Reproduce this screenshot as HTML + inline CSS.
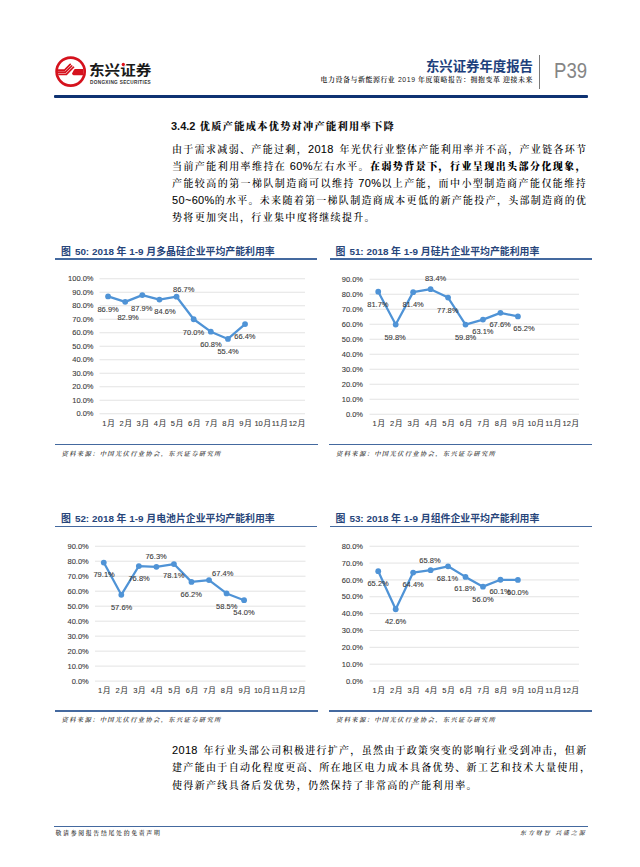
<!DOCTYPE html>
<html lang="zh-CN">
<head>
<meta charset="utf-8">
<title>东兴证券年度报告 P39</title>
<style>
html,body{margin:0;padding:0;background:#fff;}
body{width:640px;height:867px;position:relative;overflow:hidden;font-family:"Liberation Sans","Noto Serif CJK SC",serif;color:#111;}
.abs{position:absolute;white-space:nowrap;}
.logo-cn{position:absolute;left:88.8px;top:61.5px;font-family:"Liberation Sans","Noto Sans CJK SC",sans-serif;font-weight:bold;font-size:14.2px;line-height:17px;letter-spacing:0px;color:#1a1a1a;white-space:nowrap;transform:scaleX(1.1);transform-origin:0 0;}
.logo-en{position:absolute;left:90px;top:79.5px;font-family:"Liberation Sans",sans-serif;font-weight:bold;font-size:4.7px;line-height:6px;letter-spacing:0.32px;color:#333;white-space:nowrap;}
.hdr-t{position:absolute;right:107px;top:59.2px;font-family:"Liberation Sans","Noto Sans CJK SC",sans-serif;font-weight:bold;font-size:13.4px;line-height:16px;color:#1d3f7c;white-space:nowrap;}
.hdr-s{position:absolute;right:107px;top:74.5px;font-family:"Liberation Sans","Noto Serif CJK SC",serif;font-size:6.9px;line-height:9px;letter-spacing:0.6px;color:#222;font-weight:600;white-space:nowrap;}
.vbar{position:absolute;left:539px;top:55px;width:1.4px;height:33.5px;background:#7a7a7a;}
.pnum{position:absolute;left:553.8px;top:59.2px;font-family:"Liberation Sans",sans-serif;font-size:22px;line-height:24px;color:#858585;transform:scaleX(0.845);transform-origin:0 0;}
.topline{position:absolute;left:53.5px;top:95px;width:534px;height:2.6px;background:#0e3272;border-radius:1px;}
.h3{position:absolute;left:171px;top:118.5px;font-family:"Liberation Sans","Noto Serif CJK SC",serif;font-weight:bold;font-size:11px;line-height:14px;color:#111;white-space:nowrap;}
.h3 .hc{letter-spacing:1.3px;font-size:10.2px;margin-left:1.2px;font-weight:900;}
.para{position:absolute;left:172px;width:415px;font-family:"Liberation Sans","Noto Serif CJK SC",serif;font-size:10px;line-height:17px;letter-spacing:1.33px;color:#000;font-weight:500;}
.para .l{font-size:11px;letter-spacing:0.33px;font-weight:normal;-webkit-text-stroke:0.06px #000;}
.para div{white-space:nowrap;height:17px;}
.para .j{text-align:justify;text-align-last:justify;}
.para b{font-weight:900;}
.ctitle{position:absolute;font-family:"Liberation Sans","Noto Sans CJK SC",sans-serif;font-weight:bold;font-size:9.9px;line-height:12px;color:#27457a;white-space:nowrap;}
.ctitle .tnum{margin-left:4px;}
.hl{position:absolute;height:1.4px;background:#44699f;}
.src{position:absolute;font-family:"Liberation Sans","Noto Serif CJK SC",serif;font-style:italic;font-weight:600;font-size:6.3px;line-height:8px;letter-spacing:1.33px;color:#333;white-space:nowrap;}
.foot{position:absolute;font-family:"Liberation Sans","Noto Serif CJK SC",serif;font-weight:600;font-size:5.9px;line-height:8px;color:#333;white-space:nowrap;}
svg.charts{position:absolute;left:0;top:0;}
svg.charts text{font-family:"Liberation Sans","Noto Sans CJK SC",sans-serif;font-size:7.5px;fill:#3a3a3a;stroke:#3a3a3a;stroke-width:0.1px;}
</style>
</head>
<body>
<!-- logo -->
<svg class="abs" style="left:0;top:0" width="120" height="100" viewBox="0 0 120 100">
  <defs><clipPath id="lc"><circle cx="70.65" cy="71.6" r="12.8"/></clipPath></defs>
  <circle cx="70.65" cy="71.6" r="14.05" fill="none" stroke="#d5121d" stroke-width="2.7"/>
  <g clip-path="url(#lc)" fill="none" stroke="#d5121d" stroke-width="1.75" stroke-linecap="round" stroke-linejoin="miter">
    <path d="M55 70.05 L64.6 70.05 L70.2 64.45"/>
    <path d="M55 72.2 L65.5 72.2 L71.7 66.0"/>
    <path d="M55 74.35 L66.4 74.35 L73.5 67.25"/>
  </g>
  <path clip-path="url(#lc)" d="M74.7 69.1 L88 69.1 L88 75.2 L73.7 75.2 Q72.4 75.0 72.0 73.5 L73.6 70.5 Z" fill="#d5121d"/>
</svg>
<div class="logo-cn">东兴证券</div>
<div class="logo-en">DONGXING SECURITIES</div>
<svg class="abs" style="left:118px;top:60px" width="10" height="9" viewBox="118 60 10 9"><rect x="120.6" y="62.4" width="4.7" height="4.1" fill="#fff"/><circle cx="123.3" cy="64.5" r="1.65" fill="#e0101a"/></svg>

<div class="hdr-t">东兴证券年度报告</div>
<div class="hdr-s">电力设备与新能源行业 <span style="font-weight:normal">2019</span> 年度策略报告：拥抱变革 迎接未来</div>
<div class="vbar"></div>
<div class="pnum">P39</div>
<div class="topline"></div>

<div class="h3">3.4.2 <span class="hc">优质产能成本优势对冲产能利用率下降</span></div>

<div class="para" style="top:141.2px">
<div>由于需求减弱、产能过剩，<span class="l" style="margin-right:2.3px">2018 </span><span style="letter-spacing:1.26px">年光伏行业整体产能利用率并不高，产业链各环节</span></div>
<div class="j">当前产能利用率维持在<span class="l"> 60%</span>左右水平。<b>在弱势背景下，行业呈现出头部分化现象，</b></div>
<div class="j">产能较高的第一梯队制造商可以维持<span class="l"> 70%</span>以上产能，而中小型制造商产能仅能维持</div>
<div class="j" style="letter-spacing:1.29px"><span class="l">50~60%</span>的水平。未来随着第一梯队制造商成本更低的新产能投产，头部制造商的优</div>
<div>势将更加突出，行业集中度将继续提升。</div>
</div>

<div class="ctitle" style="left:61px;top:245.70px">图<span class="tnum">50: 2018 年 1-9 月多晶硅企业平均产能利用率</span></div>
<div class="hl" style="left:55px;top:258.25px;width:262px"></div>
<div class="ctitle" style="left:335.5px;top:245.70px">图<span class="tnum">51: 2018 年 1-9 月硅片企业平均产能利用率</span></div>
<div class="hl" style="left:330px;top:258.25px;width:262px"></div>
<div class="ctitle" style="left:61px;top:512.70px">图<span class="tnum">52: 2018 年 1-9 月电池片企业平均产能利用率</span></div>
<div class="hl" style="left:55px;top:526.00px;width:262px"></div>
<div class="ctitle" style="left:335.5px;top:512.70px">图<span class="tnum">53: 2018 年 1-9 月组件企业平均产能利用率</span></div>
<div class="hl" style="left:330px;top:526.00px;width:262px"></div>
<div class="hl" style="left:55px;top:443.75px;width:262.5px"></div>
<div class="src" style="left:61.5px;top:449.90px">资料来源：中国光伏行业协会，东兴证券研究所</div>
<div class="hl" style="left:329px;top:443.75px;width:262.5px"></div>
<div class="src" style="left:336px;top:449.90px">资料来源：中国光伏行业协会，东兴证券研究所</div>
<div class="hl" style="left:55px;top:710.15px;width:262.5px"></div>
<div class="src" style="left:61.5px;top:715.70px">资料来源：中国光伏行业协会，东兴证券研究所</div>
<div class="hl" style="left:329px;top:710.15px;width:262.5px"></div>
<div class="src" style="left:336px;top:715.70px">资料来源：中国光伏行业协会，东兴证券研究所</div>

<svg class="charts" width="640" height="867" viewBox="0 0 640 867">
<line x1="99.5" y1="278.75" x2="305" y2="278.75" stroke="#E3E3E3" stroke-width="1"/>
<line x1="99.5" y1="292.25" x2="305" y2="292.25" stroke="#E3E3E3" stroke-width="1"/>
<line x1="99.5" y1="305.75" x2="305" y2="305.75" stroke="#E3E3E3" stroke-width="1"/>
<line x1="99.5" y1="319.25" x2="305" y2="319.25" stroke="#E3E3E3" stroke-width="1"/>
<line x1="99.5" y1="332.75" x2="305" y2="332.75" stroke="#E3E3E3" stroke-width="1"/>
<line x1="99.5" y1="346.25" x2="305" y2="346.25" stroke="#E3E3E3" stroke-width="1"/>
<line x1="99.5" y1="359.75" x2="305" y2="359.75" stroke="#E3E3E3" stroke-width="1"/>
<line x1="99.5" y1="373.25" x2="305" y2="373.25" stroke="#E3E3E3" stroke-width="1"/>
<line x1="99.5" y1="386.75" x2="305" y2="386.75" stroke="#E3E3E3" stroke-width="1"/>
<line x1="99.5" y1="400.25" x2="305" y2="400.25" stroke="#E3E3E3" stroke-width="1"/>
<line x1="99.5" y1="413.75" x2="305" y2="413.75" stroke="#E3E3E3" stroke-width="1"/>
<text x="93.5" y="281.45" text-anchor="end">100.0%</text>
<text x="93.5" y="294.95" text-anchor="end">90.0%</text>
<text x="93.5" y="308.45" text-anchor="end">80.0%</text>
<text x="93.5" y="321.95" text-anchor="end">70.0%</text>
<text x="93.5" y="335.45" text-anchor="end">60.0%</text>
<text x="93.5" y="348.95" text-anchor="end">50.0%</text>
<text x="93.5" y="362.45" text-anchor="end">40.0%</text>
<text x="93.5" y="375.95" text-anchor="end">30.0%</text>
<text x="93.5" y="389.45" text-anchor="end">20.0%</text>
<text x="93.5" y="402.95" text-anchor="end">10.0%</text>
<text x="93.5" y="416.45" text-anchor="end">0.0%</text>
<text x="108.56" y="425.9" text-anchor="middle">1<tspan dx="0.7">月</tspan></text>
<text x="125.69" y="425.9" text-anchor="middle">2<tspan dx="0.7">月</tspan></text>
<text x="142.81" y="425.9" text-anchor="middle">3<tspan dx="0.7">月</tspan></text>
<text x="159.94" y="425.9" text-anchor="middle">4<tspan dx="0.7">月</tspan></text>
<text x="177.06" y="425.9" text-anchor="middle">5<tspan dx="0.7">月</tspan></text>
<text x="194.19" y="425.9" text-anchor="middle">6<tspan dx="0.7">月</tspan></text>
<text x="211.31" y="425.9" text-anchor="middle">7<tspan dx="0.7">月</tspan></text>
<text x="228.44" y="425.9" text-anchor="middle">8<tspan dx="0.7">月</tspan></text>
<text x="245.56" y="425.9" text-anchor="middle">9<tspan dx="0.7">月</tspan></text>
<text x="262.69" y="425.9" text-anchor="middle">10<tspan dx="0.7">月</tspan></text>
<text x="279.81" y="425.9" text-anchor="middle">11<tspan dx="0.7">月</tspan></text>
<text x="296.94" y="425.9" text-anchor="middle">12<tspan dx="0.7">月</tspan></text>
<polyline points="108.06,296.44 125.19,301.83 142.31,295.08 159.44,299.54 176.56,296.7 193.69,319.25 210.81,331.67 227.94,338.96 245.06,324.11" fill="none" stroke="#4F93D6" stroke-width="2.25" stroke-linejoin="round"/>
<circle cx="108.06" cy="296.44" r="2.9" fill="#4F93D6"/>
<circle cx="125.19" cy="301.83" r="2.9" fill="#4F93D6"/>
<circle cx="142.31" cy="295.08" r="2.9" fill="#4F93D6"/>
<circle cx="159.44" cy="299.54" r="2.9" fill="#4F93D6"/>
<circle cx="176.56" cy="296.7" r="2.9" fill="#4F93D6"/>
<circle cx="193.69" cy="319.25" r="2.9" fill="#4F93D6"/>
<circle cx="210.81" cy="331.67" r="2.9" fill="#4F93D6"/>
<circle cx="227.94" cy="338.96" r="2.9" fill="#4F93D6"/>
<circle cx="245.06" cy="324.11" r="2.9" fill="#4F93D6"/>
<text x="108.1" y="312.2" text-anchor="middle">86.9%</text>
<text x="128.1" y="319.7" text-anchor="middle">82.9%</text>
<text x="141.75" y="310.7" text-anchor="middle">87.9%</text>
<text x="165" y="313.7" text-anchor="middle">84.6%</text>
<text x="183.75" y="291.7" text-anchor="middle">86.7%</text>
<text x="193.45" y="335" text-anchor="middle">70.0%</text>
<text x="210.95" y="347.1" text-anchor="middle">60.8%</text>
<text x="228.1" y="354.1" text-anchor="middle">55.4%</text>
<text x="244.9" y="339" text-anchor="middle">66.4%</text>
<line x1="369.5" y1="279.25" x2="579" y2="279.25" stroke="#E3E3E3" stroke-width="1"/>
<line x1="369.5" y1="294.25" x2="579" y2="294.25" stroke="#E3E3E3" stroke-width="1"/>
<line x1="369.5" y1="309.25" x2="579" y2="309.25" stroke="#E3E3E3" stroke-width="1"/>
<line x1="369.5" y1="324.25" x2="579" y2="324.25" stroke="#E3E3E3" stroke-width="1"/>
<line x1="369.5" y1="339.25" x2="579" y2="339.25" stroke="#E3E3E3" stroke-width="1"/>
<line x1="369.5" y1="354.25" x2="579" y2="354.25" stroke="#E3E3E3" stroke-width="1"/>
<line x1="369.5" y1="369.25" x2="579" y2="369.25" stroke="#E3E3E3" stroke-width="1"/>
<line x1="369.5" y1="384.25" x2="579" y2="384.25" stroke="#E3E3E3" stroke-width="1"/>
<line x1="369.5" y1="399.25" x2="579" y2="399.25" stroke="#E3E3E3" stroke-width="1"/>
<line x1="369.5" y1="414.25" x2="579" y2="414.25" stroke="#E3E3E3" stroke-width="1"/>
<text x="363" y="281.95" text-anchor="end">90.0%</text>
<text x="363" y="296.95" text-anchor="end">80.0%</text>
<text x="363" y="311.95" text-anchor="end">70.0%</text>
<text x="363" y="326.95" text-anchor="end">60.0%</text>
<text x="363" y="341.95" text-anchor="end">50.0%</text>
<text x="363" y="356.95" text-anchor="end">40.0%</text>
<text x="363" y="371.95" text-anchor="end">30.0%</text>
<text x="363" y="386.95" text-anchor="end">20.0%</text>
<text x="363" y="401.95" text-anchor="end">10.0%</text>
<text x="363" y="416.95" text-anchor="end">0.0%</text>
<text x="378.73" y="426.4" text-anchor="middle">1<tspan dx="0.7">月</tspan></text>
<text x="396.19" y="426.4" text-anchor="middle">2<tspan dx="0.7">月</tspan></text>
<text x="413.65" y="426.4" text-anchor="middle">3<tspan dx="0.7">月</tspan></text>
<text x="431.1" y="426.4" text-anchor="middle">4<tspan dx="0.7">月</tspan></text>
<text x="448.56" y="426.4" text-anchor="middle">5<tspan dx="0.7">月</tspan></text>
<text x="466.02" y="426.4" text-anchor="middle">6<tspan dx="0.7">月</tspan></text>
<text x="483.48" y="426.4" text-anchor="middle">7<tspan dx="0.7">月</tspan></text>
<text x="500.94" y="426.4" text-anchor="middle">8<tspan dx="0.7">月</tspan></text>
<text x="518.4" y="426.4" text-anchor="middle">9<tspan dx="0.7">月</tspan></text>
<text x="535.85" y="426.4" text-anchor="middle">10<tspan dx="0.7">月</tspan></text>
<text x="553.31" y="426.4" text-anchor="middle">11<tspan dx="0.7">月</tspan></text>
<text x="570.77" y="426.4" text-anchor="middle">12<tspan dx="0.7">月</tspan></text>
<polyline points="378.23,291.7 395.69,324.55 413.15,292.15 430.6,289.15 448.06,297.55 465.52,324.55 482.98,319.6 500.44,312.85 517.9,316.45" fill="none" stroke="#4F93D6" stroke-width="2.25" stroke-linejoin="round"/>
<circle cx="378.23" cy="291.7" r="2.9" fill="#4F93D6"/>
<circle cx="395.69" cy="324.55" r="2.9" fill="#4F93D6"/>
<circle cx="413.15" cy="292.15" r="2.9" fill="#4F93D6"/>
<circle cx="430.6" cy="289.15" r="2.9" fill="#4F93D6"/>
<circle cx="448.06" cy="297.55" r="2.9" fill="#4F93D6"/>
<circle cx="465.52" cy="324.55" r="2.9" fill="#4F93D6"/>
<circle cx="482.98" cy="319.6" r="2.9" fill="#4F93D6"/>
<circle cx="500.44" cy="312.85" r="2.9" fill="#4F93D6"/>
<circle cx="517.9" cy="316.45" r="2.9" fill="#4F93D6"/>
<text x="377.9" y="306.95" text-anchor="middle">81.7%</text>
<text x="395.1" y="340.2" text-anchor="middle">59.8%</text>
<text x="413.1" y="306.95" text-anchor="middle">81.4%</text>
<text x="435.6" y="281.45" text-anchor="middle">83.4%</text>
<text x="447.75" y="312.7" text-anchor="middle">77.8%</text>
<text x="465.6" y="340.2" text-anchor="middle">59.8%</text>
<text x="482.9" y="334.1" text-anchor="middle">63.1%</text>
<text x="500.1" y="327.3" text-anchor="middle">67.6%</text>
<text x="524" y="330.8" text-anchor="middle">65.2%</text>
<line x1="95" y1="546.25" x2="305.5" y2="546.25" stroke="#E3E3E3" stroke-width="1"/>
<line x1="95" y1="561.23" x2="305.5" y2="561.23" stroke="#E3E3E3" stroke-width="1"/>
<line x1="95" y1="576.22" x2="305.5" y2="576.22" stroke="#E3E3E3" stroke-width="1"/>
<line x1="95" y1="591.2" x2="305.5" y2="591.2" stroke="#E3E3E3" stroke-width="1"/>
<line x1="95" y1="606.18" x2="305.5" y2="606.18" stroke="#E3E3E3" stroke-width="1"/>
<line x1="95" y1="621.17" x2="305.5" y2="621.17" stroke="#E3E3E3" stroke-width="1"/>
<line x1="95" y1="636.15" x2="305.5" y2="636.15" stroke="#E3E3E3" stroke-width="1"/>
<line x1="95" y1="651.13" x2="305.5" y2="651.13" stroke="#E3E3E3" stroke-width="1"/>
<line x1="95" y1="666.12" x2="305.5" y2="666.12" stroke="#E3E3E3" stroke-width="1"/>
<line x1="95" y1="681.1" x2="305.5" y2="681.1" stroke="#E3E3E3" stroke-width="1"/>
<text x="88.75" y="548.95" text-anchor="end">90.0%</text>
<text x="88.75" y="563.93" text-anchor="end">80.0%</text>
<text x="88.75" y="578.92" text-anchor="end">70.0%</text>
<text x="88.75" y="593.9" text-anchor="end">60.0%</text>
<text x="88.75" y="608.88" text-anchor="end">50.0%</text>
<text x="88.75" y="623.87" text-anchor="end">40.0%</text>
<text x="88.75" y="638.85" text-anchor="end">30.0%</text>
<text x="88.75" y="653.83" text-anchor="end">20.0%</text>
<text x="88.75" y="668.82" text-anchor="end">10.0%</text>
<text x="88.75" y="683.8" text-anchor="end">0.0%</text>
<text x="104.27" y="692.9" text-anchor="middle">1<tspan dx="0.7">月</tspan></text>
<text x="121.81" y="692.9" text-anchor="middle">2<tspan dx="0.7">月</tspan></text>
<text x="139.35" y="692.9" text-anchor="middle">3<tspan dx="0.7">月</tspan></text>
<text x="156.9" y="692.9" text-anchor="middle">4<tspan dx="0.7">月</tspan></text>
<text x="174.44" y="692.9" text-anchor="middle">5<tspan dx="0.7">月</tspan></text>
<text x="191.98" y="692.9" text-anchor="middle">6<tspan dx="0.7">月</tspan></text>
<text x="209.52" y="692.9" text-anchor="middle">7<tspan dx="0.7">月</tspan></text>
<text x="227.06" y="692.9" text-anchor="middle">8<tspan dx="0.7">月</tspan></text>
<text x="244.6" y="692.9" text-anchor="middle">9<tspan dx="0.7">月</tspan></text>
<text x="262.15" y="692.9" text-anchor="middle">10<tspan dx="0.7">月</tspan></text>
<text x="279.69" y="692.9" text-anchor="middle">11<tspan dx="0.7">月</tspan></text>
<text x="297.23" y="692.9" text-anchor="middle">12<tspan dx="0.7">月</tspan></text>
<polyline points="103.77,562.58 121.31,594.8 138.85,566.03 156.4,566.78 173.94,564.08 191.48,581.91 209.02,580.11 226.56,593.45 244.1,600.19" fill="none" stroke="#4F93D6" stroke-width="2.25" stroke-linejoin="round"/>
<circle cx="103.77" cy="562.58" r="2.9" fill="#4F93D6"/>
<circle cx="121.31" cy="594.8" r="2.9" fill="#4F93D6"/>
<circle cx="138.85" cy="566.03" r="2.9" fill="#4F93D6"/>
<circle cx="156.4" cy="566.78" r="2.9" fill="#4F93D6"/>
<circle cx="173.94" cy="564.08" r="2.9" fill="#4F93D6"/>
<circle cx="191.48" cy="581.91" r="2.9" fill="#4F93D6"/>
<circle cx="209.02" cy="580.11" r="2.9" fill="#4F93D6"/>
<circle cx="226.56" cy="593.45" r="2.9" fill="#4F93D6"/>
<circle cx="244.1" cy="600.19" r="2.9" fill="#4F93D6"/>
<text x="104.1" y="577.2" text-anchor="middle">79.1%</text>
<text x="121.6" y="609.7" text-anchor="middle">57.6%</text>
<text x="139.1" y="580.95" text-anchor="middle">76.8%</text>
<text x="156.1" y="558.95" text-anchor="middle">76.3%</text>
<text x="173.75" y="578.45" text-anchor="middle">78.1%</text>
<text x="191.2" y="596.7" text-anchor="middle">66.2%</text>
<text x="222.7" y="575.5" text-anchor="middle">67.4%</text>
<text x="226.7" y="608.8" text-anchor="middle">58.5%</text>
<text x="244" y="615.35" text-anchor="middle">54.0%</text>
<line x1="369.5" y1="546.25" x2="579" y2="546.25" stroke="#E3E3E3" stroke-width="1"/>
<line x1="369.5" y1="563.09" x2="579" y2="563.09" stroke="#E3E3E3" stroke-width="1"/>
<line x1="369.5" y1="579.94" x2="579" y2="579.94" stroke="#E3E3E3" stroke-width="1"/>
<line x1="369.5" y1="596.78" x2="579" y2="596.78" stroke="#E3E3E3" stroke-width="1"/>
<line x1="369.5" y1="613.62" x2="579" y2="613.62" stroke="#E3E3E3" stroke-width="1"/>
<line x1="369.5" y1="630.47" x2="579" y2="630.47" stroke="#E3E3E3" stroke-width="1"/>
<line x1="369.5" y1="647.31" x2="579" y2="647.31" stroke="#E3E3E3" stroke-width="1"/>
<line x1="369.5" y1="664.16" x2="579" y2="664.16" stroke="#E3E3E3" stroke-width="1"/>
<line x1="369.5" y1="681" x2="579" y2="681" stroke="#E3E3E3" stroke-width="1"/>
<text x="363" y="548.95" text-anchor="end">80.0%</text>
<text x="363" y="565.79" text-anchor="end">70.0%</text>
<text x="363" y="582.64" text-anchor="end">60.0%</text>
<text x="363" y="599.48" text-anchor="end">50.0%</text>
<text x="363" y="616.33" text-anchor="end">40.0%</text>
<text x="363" y="633.17" text-anchor="end">30.0%</text>
<text x="363" y="650.01" text-anchor="end">20.0%</text>
<text x="363" y="666.86" text-anchor="end">10.0%</text>
<text x="363" y="683.7" text-anchor="end">0.0%</text>
<text x="378.73" y="692.9" text-anchor="middle">1<tspan dx="0.7">月</tspan></text>
<text x="396.19" y="692.9" text-anchor="middle">2<tspan dx="0.7">月</tspan></text>
<text x="413.65" y="692.9" text-anchor="middle">3<tspan dx="0.7">月</tspan></text>
<text x="431.1" y="692.9" text-anchor="middle">4<tspan dx="0.7">月</tspan></text>
<text x="448.56" y="692.9" text-anchor="middle">5<tspan dx="0.7">月</tspan></text>
<text x="466.02" y="692.9" text-anchor="middle">6<tspan dx="0.7">月</tspan></text>
<text x="483.48" y="692.9" text-anchor="middle">7<tspan dx="0.7">月</tspan></text>
<text x="500.94" y="692.9" text-anchor="middle">8<tspan dx="0.7">月</tspan></text>
<text x="518.4" y="692.9" text-anchor="middle">9<tspan dx="0.7">月</tspan></text>
<text x="535.85" y="692.9" text-anchor="middle">10<tspan dx="0.7">月</tspan></text>
<text x="553.31" y="692.9" text-anchor="middle">11<tspan dx="0.7">月</tspan></text>
<text x="570.77" y="692.9" text-anchor="middle">12<tspan dx="0.7">月</tspan></text>
<polyline points="378.23,571.18 395.69,609.25 413.15,572.53 430.6,570.17 448.06,566.29 465.52,576.91 482.98,586.67 500.44,579.77 517.9,579.94" fill="none" stroke="#4F93D6" stroke-width="2.25" stroke-linejoin="round"/>
<circle cx="378.23" cy="571.18" r="2.9" fill="#4F93D6"/>
<circle cx="395.69" cy="609.25" r="2.9" fill="#4F93D6"/>
<circle cx="413.15" cy="572.53" r="2.9" fill="#4F93D6"/>
<circle cx="430.6" cy="570.17" r="2.9" fill="#4F93D6"/>
<circle cx="448.06" cy="566.29" r="2.9" fill="#4F93D6"/>
<circle cx="465.52" cy="576.91" r="2.9" fill="#4F93D6"/>
<circle cx="482.98" cy="586.67" r="2.9" fill="#4F93D6"/>
<circle cx="500.44" cy="579.77" r="2.9" fill="#4F93D6"/>
<circle cx="517.9" cy="579.94" r="2.9" fill="#4F93D6"/>
<text x="378.1" y="585.7" text-anchor="middle">65.2%</text>
<text x="395.6" y="623.95" text-anchor="middle">42.6%</text>
<text x="413.1" y="586.95" text-anchor="middle">64.4%</text>
<text x="430" y="562.95" text-anchor="middle">65.8%</text>
<text x="447.5" y="580.7" text-anchor="middle">68.1%</text>
<text x="465" y="591.45" text-anchor="middle">61.8%</text>
<text x="483" y="601.95" text-anchor="middle">56.0%</text>
<text x="500.1" y="594.3" text-anchor="middle">60.1%</text>
<text x="517.7" y="594.7" text-anchor="middle">60.0%</text>
</svg>

<div class="para" style="top:741.6px">
<div><span class="l" style="margin-right:2.4px">2018 </span><span style="letter-spacing:1.29px">年行业头部公司积极进行扩产，虽然由于政策突变的影响行业受到冲击，但新</span></div>
<div class="j" style="height:18px">建产能由于自动化程度更高、所在地区电力成本具备优势、新工艺和技术大量使用，</div>
<div>使得新产线具备后发优势，仍然保持了非常高的产能利用率。</div>
</div>

<div class="hl" style="left:53.5px;top:825.8px;width:534.2px;height:1.1px"></div>
<div class="foot" style="left:55.5px;top:829.3px;letter-spacing:1.68px">敬请参阅报告结尾处的免责声明</div>
<div class="foot" style="left:520px;top:829.3px;letter-spacing:2.0px;font-style:italic">东方财智 兴盛之源</div>
</body>
</html>
